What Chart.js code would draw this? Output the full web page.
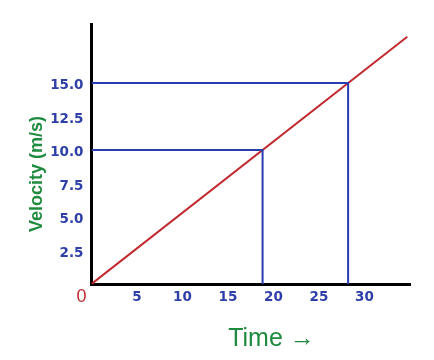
<!DOCTYPE html>
<html>
<head>
<meta charset="utf-8">
<script src="https://cdn.jsdelivr.net/npm/chart.js@4/dist/chart.umd.min.js"></script>
<style>
  html, body { margin: 0; padding: 0; background: #ffffff; }
  #wrap { width: 434px; height: 360px; }
</style>
</head>
<body>
<div id="wrap"><canvas id="c" width="434" height="360"></canvas></div>
<script>
// ---- data ----
const lineTime = [0, 34.7];          // time (s) for the velocity line
const lineVelocity = [0, 18.45];     // velocity (m/s)
const markVelocities = [10, 15];     // velocities
const markTimes = [18.8, 28.2];      // times at which those velocities occur
const xTickValues = [5, 10, 15, 20, 25, 30];
const xTickLabels = ['5', '10', '15', '20', '25', '30'];
const yTickValues = [2.5, 5, 7.5, 10, 12.5, 15];
const yTickLabels = ['2.5', '5.0', '7.5', '10.0', '12.5', '15.0'];
const xTitle = 'Time \u2192';
const yTitle = 'Velocity (m/s)';
const originLabel = '0';

// ---- styles ----
const BLUE_LINE = '#2a3cb2';
const BLUE_TEXT = '#2f3fa8';
const RED = '#c02a2e';
const GREEN = '#1f8b3f';
const tickFont = { family: '"DejaVu Sans", Verdana, sans-serif', size: 13.5, weight: 'bold' };

const toPts = (xs, ys) => xs.map((x, i) => ({ x: x, y: ys[i] }));

const datasets = [];
markVelocities.forEach((v, i) => {
  const t = markTimes[i];
  datasets.push({
    label: 'v = ' + v,
    data: toPts([0, t, t], [v, v, 0]),
    showLine: true,
    borderColor: BLUE_LINE,
    borderWidth: 2,
    pointRadius: 0,
    tension: 0,
    fill: false
  });
});
datasets.push({
  label: 'velocity',
  data: toPts(lineTime, lineVelocity),
  showLine: true,
  borderColor: RED,
  borderWidth: 2,
  pointRadius: 0,
  tension: 0,
  fill: false
});

const extraText = {
  id: 'extraText',
  afterDraw(chart) {
    const ctx = chart.ctx;
    const xs = chart.scales.x, ys = chart.scales.y;
    const area = chart.chartArea;
    ctx.save();
    ctx.textAlign = 'center';
    ctx.textBaseline = 'middle';
    // origin "0"
    ctx.fillStyle = RED;
    ctx.font = '18px "Liberation Sans", Arial, sans-serif';
    ctx.fillText(originLabel, xs.getPixelForValue(0) - 10, ys.getPixelForValue(0) + 13);
    // x-axis title
    ctx.fillStyle = GREEN;
    ctx.font = '25px "Liberation Sans", Arial, sans-serif';
    ctx.fillText(xTitle, area.left + 180, area.bottom + 55);
    // y-axis title (rotated)
    ctx.font = 'bold 18px "Liberation Sans", Arial, sans-serif';
    ctx.translate(37, area.top + 150);
    ctx.rotate(-Math.PI / 2);
    ctx.fillText(yTitle, 0, 0);
    ctx.restore();
  }
};

new Chart(document.getElementById('c'), {
  type: 'scatter',
  data: { datasets: datasets },
  plugins: [extraText],
  options: {
    responsive: false,
    animation: false,
    layout: { padding: { left: 0, top: 24, right: 24, bottom: 0 } },
    plugins: { legend: { display: false }, tooltip: { enabled: false } },
    scales: {
      x: {
        type: 'linear',
        min: 0,
        max: 35,
        afterBuildTicks: (s) => { s.ticks = xTickValues.map(v => ({ value: v })); },
        afterFit: (s) => { s.height = 76; },
        grid: { display: false, drawTicks: false },
        border: { display: true, color: '#000000', width: 3 },
        ticks: {
          color: BLUE_TEXT,
          font: tickFont,
          padding: 5,
          maxRotation: 0,
          autoSkip: false,
          callback: (v, i) => xTickLabels[i]
        },
        title: { display: false, text: xTitle }
      },
      y: {
        type: 'linear',
        min: 0,
        max: 19.4,
        afterBuildTicks: (s) => { s.ticks = yTickValues.map(v => ({ value: v })); },
        afterFit: (s) => { s.width = 91.5; },
        grid: { display: false, drawTicks: false },
        border: { display: true, color: '#000000', width: 3 },
        ticks: {
          color: BLUE_TEXT,
          font: tickFont,
          padding: 8,
          labelOffset: 3,
          autoSkip: false,
          callback: (v, i) => yTickLabels[i]
        },
        title: { display: false, text: yTitle }
      }
    }
  }
});
</script>
</body>
</html>
